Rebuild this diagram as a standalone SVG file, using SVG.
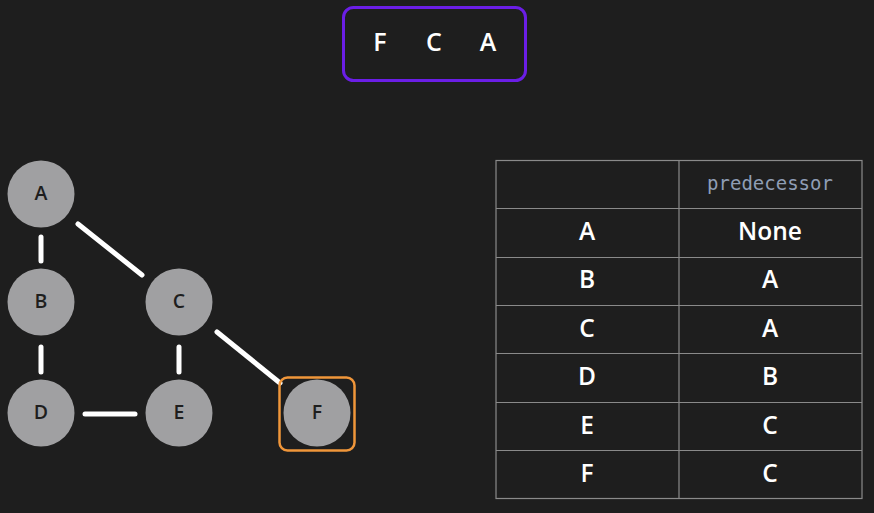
<svg xmlns="http://www.w3.org/2000/svg" width="874" height="513" viewBox="0 0 874 513">
<style>
.bg{fill:#1e1e1e}
.node circle{fill:#a0a0a2}
.node text{font-family:"Open Sans","Noto Sans",sans-serif;font-size:19.5px;font-weight:600;fill:#1e1e1e;text-anchor:middle}
.edge{stroke:#ffffff;stroke-width:5;stroke-linecap:round}
.cell{fill:none;stroke:#8a8a8a;stroke-width:1.2}
.t{font-family:"Open Sans","Noto Sans",sans-serif;font-size:24.5px;font-weight:600;fill:#ffffff;text-anchor:middle}
.q{font-family:"Open Sans","Noto Sans",sans-serif;font-size:25px;font-weight:600;fill:#ffffff;text-anchor:middle}
.mono{font-family:"DejaVu Sans Mono","Liberation Mono",monospace;font-size:19px;fill:#8f9db5;text-anchor:middle}
</style>
<rect class="bg" width="874" height="513"/>
<g id="queue">
<rect x="343.5" y="7.5" width="182" height="73" rx="10" fill="none" stroke="#6b1ee6" stroke-width="3"/>
<text class="q" x="380" y="51">F</text>
<text class="q" x="434" y="51">C</text>
<text class="q" x="488" y="51">A</text>
</g>
<g id="connectors">
<line class="edge" x1="41" y1="237" x2="41" y2="261"/>
<line class="edge" x1="78" y1="224" x2="142" y2="275"/>
<line class="edge" x1="41" y1="347" x2="41" y2="372"/>
<line class="edge" x1="179" y1="347" x2="179" y2="372"/>
<line class="edge" x1="217" y1="332" x2="280" y2="383"/>
<line class="edge" x1="85" y1="414" x2="135" y2="414"/>
</g>
<g id="node-A" class="node"><circle cx="41" cy="194" r="33.5"/><text x="41" y="200">A</text></g>
<g id="node-B" class="node"><circle cx="41" cy="302" r="33.5"/><text x="41" y="308">B</text></g>
<g id="node-C" class="node"><circle cx="179" cy="302" r="33.5"/><text x="179" y="308">C</text></g>
<g id="node-D" class="node"><circle cx="41" cy="413" r="33.5"/><text x="41" y="419">D</text></g>
<g id="node-E" class="node"><circle cx="179" cy="413" r="33.5"/><text x="179" y="419">E</text></g>
<g id="node-F" class="node"><rect x="279.5" y="377.5" width="75" height="73" rx="8" fill="none" stroke="#f0963a" stroke-width="2.5"/><circle cx="317" cy="413" r="33.5"/><text x="317" y="419">F</text></g>
<g id="table">
<rect class="cell" x="496" y="160.5" width="366" height="338"/>
<line class="cell" x1="679" y1="160.5" x2="679" y2="498.5"/>
<line class="cell" x1="496" y1="208.5" x2="862" y2="208.5"/>
<line class="cell" x1="496" y1="257.5" x2="862" y2="257.5"/>
<line class="cell" x1="496" y1="305.5" x2="862" y2="305.5"/>
<line class="cell" x1="496" y1="353.5" x2="862" y2="353.5"/>
<line class="cell" x1="496" y1="402.5" x2="862" y2="402.5"/>
<line class="cell" x1="496" y1="450.5" x2="862" y2="450.5"/>
<text class="mono" x="770" y="190">predecessor</text>
<text class="t" x="587" y="240">A</text><text class="t" x="770" y="240">None</text>
<text class="t" x="587" y="288">B</text><text class="t" x="770" y="288">A</text>
<text class="t" x="587" y="337">C</text><text class="t" x="770" y="337">A</text>
<text class="t" x="587" y="385">D</text><text class="t" x="770" y="385">B</text>
<text class="t" x="587" y="434">E</text><text class="t" x="770" y="434">C</text>
<text class="t" x="587" y="482">F</text><text class="t" x="770" y="482">C</text>
</g>
</svg>
